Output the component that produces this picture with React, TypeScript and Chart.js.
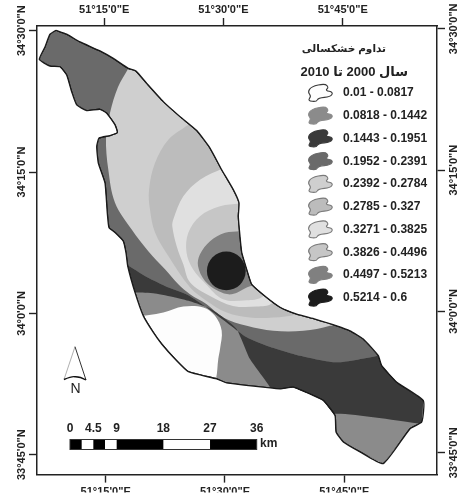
import React, { useEffect, useRef } from "react";
import { Chart, registerables } from "chart.js";

Chart.register(...registerables);

// All map coordinates are arc-minutes: lon = minutes after 51°, lat = minutes after 33°.
type P = [number, number];

const lonTicks = [15, 30, 45];
const lonTickLabels = ["51°15'0\"E", "51°30'0\"E", "51°45'0\"E"];
const latTicks = [45, 60, 75, 90];
const latTickLabels = ["33°45'0\"N", "34°0'0\"N", "34°15'0\"N", "34°30'0\"N"];

const basinOutline: P[] = [
  [8.75, 90.05], [10.09, 89.63], [11.77, 88.81], [14.28, 87.86], [15.96, 87.06], [17.84, 86.0], [18.81, 85.71],
  [20.16, 84.41], [22.25, 82.47], [24.35, 80.88], [26.45, 79.4], [28.12, 77.54], [29.59, 75.24], [31.05, 73.13],
  [31.77, 71.72], [31.68, 70.3], [31.89, 68.19], [32.11, 66.47], [32.74, 64.67], [33.37, 63.08], [35.25, 61.68],
  [36.93, 60.65], [39.03, 59.91], [41.33, 59.38], [44.06, 58.67], [45.73, 58.14], [47.4, 57.27], [49.29, 55.5],
  [49.72, 54.44], [51.61, 52.69], [54.95, 50.74], [54.75, 48.46], [53.28, 47.75], [49.92, 44.05], [46.99, 45.29],
  [44.89, 46.34], [43.97, 47.4], [43.84, 49.16], [42.37, 50.74], [41.11, 51.27], [38.6, 52.16], [36.93, 51.98],
  [30.22, 52.61], [28.96, 53.04], [25.39, 53.81], [23.72, 55.15], [22.04, 56.74], [20.99, 57.97], [19.73, 59.73],
  [18.69, 62.2], [17.77, 65.02], [17.55, 66.43], [17.21, 67.66], [16.17, 68.58], [15.42, 69.08], [15.2, 70.66],
  [14.91, 73.84], [14.07, 75.95], [13.87, 77.71], [14.16, 78.6], [15.54, 78.87], [16.46, 79.19], [16.17, 80.0],
  [15.13, 81.24], [14.28, 81.66], [12.61, 81.52], [11.35, 82.12], [10.72, 83.52], [10.09, 85.29], [9.25, 86.17],
  [8.0, 86.24], [6.65, 86.95], [7.36, 88.28], [7.99, 89.63], [8.75, 90.05],
];

const zoneMidGray: P[] = [[5, 42], [58, 42], [58, 92], [5, 92]];
const zoneLight: P[] = [
  [17.84, 86.0], [16.55, 84.02], [15.54, 81.27], [15.04, 78.6], [15.33, 75.24], [16.17, 71.75], [18.27, 68.9],
  [20.36, 66.6], [22.46, 64.67], [24.13, 63.08], [25.6, 62.03], [27.7, 60.97], [29.79, 59.56], [32.74, 58.67],
  [36.08, 58.14], [39.86, 58.14], [43.22, 58.67], [45.1, 59.38], [39.44, 72.07], [34.41, 82.65], [20.57, 87.41],
];
const zoneMedium: P[] = [
  [25.19, 79.9], [22.88, 78.42], [21.2, 75.95], [20.45, 73.13], [20.57, 71.01], [21.2, 68.58], [22.88, 66.08],
  [25.6, 62.76], [27.7, 61.32], [30.22, 60.09], [33.15, 59.56], [36.08, 59.56], [39.03, 59.91], [43.22, 61.5],
  [36.93, 77.36], [29.38, 81.59],
];
const zonePale: P[] = [
  [29.88, 75.46], [26.86, 74.19], [24.76, 72.42], [23.5, 69.96], [23.38, 69.22], [23.93, 67.13], [24.76, 65.2],
  [25.6, 63.29], [28.12, 61.84], [31.01, 60.79], [33.99, 60.72], [35.88, 61.04], [38.18, 63.61], [34.41, 75.24],
];
const zoneSilver: P[] = [
  [31.89, 71.65], [29.38, 71.36], [26.86, 70.31], [25.39, 68.55], [25.16, 66.47], [25.98, 64.67], [27.49, 63.19],
  [29.76, 61.49], [32.74, 61.39], [34.62, 61.71], [36.93, 63.61], [34.41, 72.07],
];
const zoneRing: P[] = [
  [31.89, 68.72], [30.01, 68.55], [28.12, 67.66], [26.86, 66.26], [26.61, 65.02], [27.49, 63.43], [29.16, 62.37],
  [30.85, 62.02], [32.74, 62.73], [35.04, 63.61], [35.04, 68.69],
];
const darkBandUpper: P[] = [
  [16.8, 65.51], [17.77, 65.09], [19.94, 63.96], [22.46, 62.9], [25.39, 61.92], [27.7, 60.62], [30.22, 59.03],
  [32.74, 57.45], [35.25, 56.56], [39.44, 55.5], [44.06, 54.8], [49.29, 55.5], [55.79, 56.74],
];
const darkBandLower: P[] = [
  [55.79, 48.06], [54.54, 48.28], [43.84, 49.34], [39.44, 47.75], [35.67, 51.45], [35.67, 52.16], [33.15, 55.15],
  [31.48, 58.32], [29.79, 59.56], [28.12, 60.51], [25.6, 61.28], [23.72, 61.68], [21.2, 62.1], [18.69, 62.2],
  [16.8, 62.24],
];
const southOuter: P[] = [[55.79, 42.46], [16.8, 42.46]];
const zoneWhite: P[] = [
  [18.69, 59.59], [22.25, 60.09], [24.76, 60.72], [27.28, 60.62], [28.75, 59.73], [29.59, 58.14], [29.38, 56.21],
  [29.16, 55.15], [28.87, 53.04], [28.12, 51.45], [18.06, 51.45],
];
const coreCentre: P[] = [[30.17, 64.5]];

const legendRanges = [
  "0.01 - 0.0817", "0.0818 - 0.1442", "0.1443 - 0.1951", "0.1952 - 0.2391", "0.2392 - 0.2784",
  "0.2785 - 0.327", "0.3271 - 0.3825", "0.3826 - 0.4496", "0.4497 - 0.5213", "0.5214 - 0.6",
];
const legendColors = [
  "#fdfdfd", "#8b8b8b", "#3a3a3a", "#6a6a6a", "#cfcfcf",
  "#bcbcbc", "#e0e0e0", "#c6c6c6", "#808080", "#1c1c1c",
];
const legendTitle = "تداوم خشکسالی";
const legendSubtitle = "سال 2000 تا 2010";
const scaleKm = [0, 2.25, 4.5, 6.75, 9, 18, 27, 36];
const scaleLabels = ["0", "4.5", "9", "18", "27", "36"];
const scaleLabelKm = [0, 4.5, 9, 18, 27, 36];

const blob: P[] = [
  [-8.7, -6.5], [5.2, -9.5], [8.7, -5.4], [5.2, -2.6], [13.3, -0.8], [10.5, 3.8],
  [-1.8, 4.9], [-3.5, 8.8], [-12.3, 7.7], [-8.7, 3.1], [-12.3, -0.8],
];

const FONT = '"Liberation Sans", "DejaVu Sans", sans-serif';
const INK = "#222222";

const xy = (pts: P[]) => pts.map(([x, y]) => ({ x, y }));

const zone = (pts: P[], color: string, tension = 0.35) => ({
  data: xy(pts),
  showLine: true,
  fill: "shape",
  backgroundColor: color,
  borderWidth: 0,
  borderColor: color,
  pointRadius: 0,
  tension,
});

const paintOrder = [
  zone(zoneMidGray, legendColors[3], 0),
  zone(zoneLight, legendColors[4]),
  zone(zoneMedium, legendColors[5]),
  zone(zonePale, legendColors[6]),
  zone(zoneSilver, legendColors[7]),
  zone(zoneRing, legendColors[8]),
  zone([...darkBandUpper, ...southOuter], legendColors[1], 0.2),
  zone(zoneWhite, legendColors[0]),
  zone([...darkBandUpper, ...darkBandLower], legendColors[2], 0.2),
  {
    data: xy(coreCentre),
    showLine: false,
    backgroundColor: legendColors[9],
    borderColor: legendColors[9],
    pointRadius: 19.4,
    pointBorderWidth: 0,
  },
  {
    data: xy(basinOutline),
    showLine: true,
    fill: false,
    borderColor: "#1a1a1a",
    borderWidth: 1.3,
    pointRadius: 0,
    tension: 0.15,
  },
];
const OUTLINE = paintOrder.length - 1;

const mapClip = {
  id: "mapClip",
  beforeDatasetsDraw(chart: any) {
    const { ctx, scales } = chart;
    ctx.save();
    ctx.beginPath();
    basinOutline.forEach(([x, y], i) => {
      const px = scales.x.getPixelForValue(x);
      const py = scales.y.getPixelForValue(y);
      if (i) ctx.lineTo(px, py);
      else ctx.moveTo(px, py);
    });
    ctx.closePath();
    ctx.clip();
  },
  afterDatasetsDraw(chart: any) {
    chart.ctx.restore();
    chart.getDatasetMeta(OUTLINE).dataset.draw(chart.ctx, chart.chartArea);
  },
};

const drawBlob = (ctx: CanvasRenderingContext2D, cx: number, cy: number, fill: string, stroke: string) => {
  const pts = blob.map(([x, y]) => [cx + x, cy + y]);
  const n = pts.length;
  ctx.beginPath();
  ctx.moveTo((pts[n - 1][0] + pts[0][0]) / 2, (pts[n - 1][1] + pts[0][1]) / 2);
  pts.forEach((p, i) => {
    const q = pts[(i + 1) % n];
    ctx.quadraticCurveTo(p[0], p[1], (p[0] + q[0]) / 2, (p[1] + q[1]) / 2);
  });
  ctx.closePath();
  ctx.fillStyle = fill;
  ctx.fill();
  ctx.strokeStyle = stroke;
  ctx.lineWidth = 1.1;
  ctx.stroke();
};

const decorations = {
  id: "decorations",
  afterDraw(chart: any) {
    const { ctx } = chart;
    ctx.save();
    ctx.fillStyle = INK;
    ctx.textBaseline = "middle";

    // Legend title
    ctx.direction = "rtl";
    ctx.textAlign = "right";
    ctx.font = `bold 10.5px ${FONT}`;
    ctx.fillText(legendTitle, 386, 49);
    ctx.font = `bold 13px ${FONT}`;
    ctx.fillText(legendSubtitle, 408, 72);
    ctx.direction = "ltr";

    // Legend rows
    legendRanges.forEach((label, i) => {
      const y = 93 + i * 22.75;
      const light = i === 0 || (i >= 4 && i <= 7);
      drawBlob(ctx, 320, y, legendColors[i], i === 0 ? "#3a3a3a" : light ? "#7a7a7a" : legendColors[i]);
      ctx.fillStyle = INK;
      ctx.textAlign = "left";
      ctx.font = `bold 12px ${FONT}`;
      ctx.fillText(label, 343, y);
    });

    // North arrow
    ctx.strokeStyle = "#9a9a9a";
    ctx.lineWidth = 0.8;
    ctx.beginPath();
    ctx.moveTo(64, 379.5);
    ctx.lineTo(75, 346.7);
    ctx.stroke();
    ctx.strokeStyle = "#333333";
    ctx.lineWidth = 1;
    ctx.beginPath();
    ctx.moveTo(75, 346.7);
    ctx.lineTo(86, 380);
    ctx.stroke();
    ctx.strokeStyle = "#111111";
    ctx.lineWidth = 1.4;
    ctx.beginPath();
    ctx.moveTo(64, 379.5);
    ctx.quadraticCurveTo(72, 376, 75, 376.7);
    ctx.quadraticCurveTo(80, 376.5, 86, 380);
    ctx.stroke();
    ctx.fillStyle = INK;
    ctx.textAlign = "center";
    ctx.font = `14px ${FONT}`;
    ctx.fillText("N", 75.5, 389.5);

    // Scale bar, in km from its left end
    const kmX = (km: number) => 70 + km * 5.186;
    ctx.fillStyle = "#ffffff";
    ctx.fillRect(kmX(0), 439.5, kmX(36) - kmX(0), 10);
    ctx.fillStyle = "#000000";
    scaleKm.slice(0, -1).forEach((km, i) => {
      if (i % 2 === 0) ctx.fillRect(kmX(km), 439.5, kmX(scaleKm[i + 1]) - kmX(km), 10);
    });
    ctx.strokeStyle = "#333333";
    ctx.lineWidth = 1;
    ctx.strokeRect(kmX(0), 439.5, kmX(36) - kmX(0), 10);
    ctx.fillStyle = INK;
    ctx.font = `bold 12px ${FONT}`;
    scaleLabels.forEach((t, i) => ctx.fillText(t, kmX(scaleLabelKm[i]), 429));
    ctx.textAlign = "left";
    ctx.fillText("km", 260, 444);
    ctx.restore();
  },
};

const axisCommon = (ticks: number[], labels: string[], padding: number, extra: any = {}) => ({
  type: "linear",
  afterBuildTicks: (axis: any) => {
    axis.ticks = ticks.map((value) => ({ value }));
  },
  grid: { drawOnChartArea: false, drawTicks: true, tickLength: 8, tickColor: INK, tickWidth: 1.4 },
  border: { display: true, color: INK, width: 1.5 },
  ticks: {
    autoSkip: false,
    color: INK,
    padding,
    font: { family: FONT, size: 11, weight: "bold" },
    callback: (_v: any, i: number) => labels[i],
    ...extra,
  },
});

export default function App() {
  const ref = useRef<HTMLCanvasElement>(null);
  useEffect(() => {
    document.body.style.margin = "0";
    const chart = new Chart(ref.current as HTMLCanvasElement, {
      type: "scatter",
      data: { datasets: paintOrder.map((d, i) => ({ ...d, order: paintOrder.length - i })) as any },
      plugins: [mapClip, decorations],
      options: {
        responsive: false,
        animation: false,
        events: [],
        layout: { padding: 0 },
        plugins: { legend: { display: false }, tooltip: { enabled: false }, title: { display: false } },
        scales: {
          x: {
            ...axisCommon(lonTicks, lonTickLabels, 3),
            position: "bottom",
            min: 6.36,
            max: 56.67,
            afterFit: (s: any) => { s.height = 18; },
          },
          xTop: {
            ...axisCommon(lonTicks, lonTickLabels, 1),
            position: "top",
            min: 6.55,
            max: 56.86,
            afterFit: (s: any) => { s.height = 26; },
          },
          y: {
            ...axisCommon(latTicks, latTickLabels, -18, { minRotation: 90, maxRotation: 90, crossAlign: "center" }),
            position: "left",
            min: 42.88,
            max: 90.5,
            afterFit: (s: any) => { s.width = 37; },
          },
          yRight: {
            ...axisCommon(latTicks, latTickLabels, -16, { minRotation: 90, maxRotation: 90, crossAlign: "center" }),
            position: "right",
            min: 42.68,
            max: 90.3,
            afterFit: (s: any) => { s.width = 37; },
          },
        } as any,
      },
    } as any);
    return () => chart.destroy();
  }, []);
  return (
    <div style={{ position: "absolute", left: 0, top: 0, width: 474, height: 494, background: "#fff" }}>
      <canvas ref={ref} width={474} height={494} style={{ display: "block", filter: "blur(0.4px)" }} />
    </div>
  );
}
